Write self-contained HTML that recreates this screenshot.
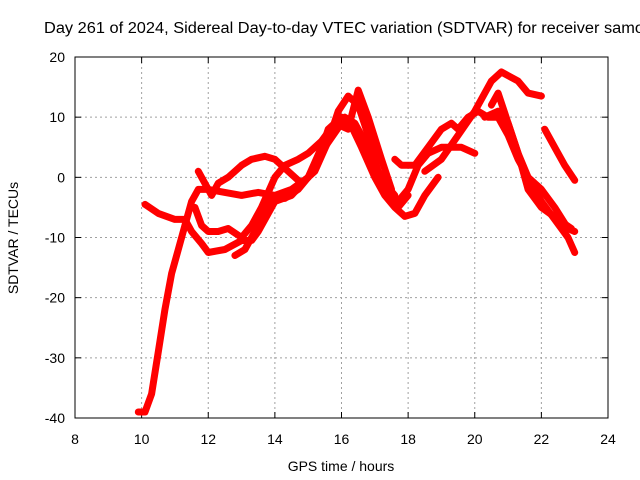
<!DOCTYPE html>
<html><head><meta charset="utf-8"><style>
body{margin:0;background:#fff}
svg{display:block;font-family:"Liberation Sans",sans-serif}
</style></head><body>
<svg id="c" width="640" height="480" xmlns="http://www.w3.org/2000/svg">
<text x="44" y="33" font-size="15.5" textLength="600" lengthAdjust="spacingAndGlyphs">Day 261 of 2024, Sidereal Day-to-day VTEC variation (SDTVAR) for receiver samo</text>
<text x="341" y="471" font-size="14" text-anchor="middle">GPS time / hours</text>
<text x="18" y="238" font-size="14" text-anchor="middle" transform="rotate(-90 18 238)">SDTVAR / TECUs</text>
</svg>
<script>
const xTicks=[8,10,12,14,16,18,20,22,24];
const yTicks=[-40,-30,-20,-10,0,10,20];
const trA_x=[9.9,10.1,10.3,10.5,10.7,10.9,11.1,11.3,11.5,11.7,12.0,12.5,13,13.5,14,14.5,15,15.3,15.6,16,16.3,16.6,17,17.4,17.7,18,18.3,18.6,19,19.3,19.6,20];
const trA_y=[-39,-39,-36,-29,-22,-16,-12,-8,-4,-2,-2,-2.5,-3,-2.5,-3,-2,0,3,8,10,9,6,1,-3,-4,-2,2,4,5,5,5,4];
const trB_x=[10.1,10.5,11,11.3,11.5,11.8,12,12.5,13,13.3,13.5,14,14.5,15,15.5,16,16.3,16.6,17,17.3,17.6,17.9,18.2,18.5,18.9];
const trB_y=[-4.5,-6,-7,-7,-9,-11,-12.5,-12,-10.5,-10.5,-9,-4,-3,0,5,9,8.5,5,0,-3,-5,-6.5,-6,-3,0];
const trC_x=[11.7,11.9,12.1,12.3,12.6,13,13.3,13.7,14,14.4,14.8,15.2,15.6,15.9,16.2,16.5,16.8,17.1,17.4,17.7,18];
const trC_y=[1,-1,-3,-1,0,2,3,3.5,3,1,-1,1,6,11,13.5,12,7,1,-3,-5,-3];
const trD_x=[11.6,11.8,12,12.3,12.6,13,13.3,13.6,14,14.3,14.7,15,15.4,15.8,16.1,16.4,16.7,17,17.3,17.6];
const trD_y=[-5,-8,-9,-9,-8.5,-10,-8,-5,0,2,3,4,6,9,10,9,6,2,-1,-3];
const trE_x=[12.8,13.1,13.4,13.7,14,14.3,14.7,15,15.4,15.8,16.2,16.5,16.8,17.2,17.5];
const trE_y=[-13,-12,-9,-5,-3,-3.5,-2,0,5,9,8,14.5,10,3,-2];
const trF_x=[17.6,17.8,18.2,18.6,19,19.3,19.5,19.8,20.1,20.4,20.7,21,21.3,21.6,22,22.4,22.8,23];
const trF_y=[3,2,2,5,8,9,8,10,11,10,10,7,3,0,-2,-5,-8.5,-9];
const trG_x=[18.5,19,19.5,20,20.5,20.8,21.3,21.6,22];
const trG_y=[1,3,7,11,16,17.5,16,14,13.5];
const trH_x=[20.3,20.7,21,21.3,21.6,22,22.4,22.8,23];
const trH_y=[10,11,9,4,0,-4,-7,-10,-12.5];
const trI_x=[20.5,20.7,21,21.3,21.6,22,22.5,22.9];
const trI_y=[12,14,9,4,-2,-5,-7,-8.5];
const trJ_x=[22.1,22.4,22.7,23];
const trJ_y=[8,5,2,-0.5];
const traces=[[trA_x,trA_y],[trB_x,trB_y],[trC_x,trC_y],[trD_x,trD_y],[trE_x,trE_y],[trF_x,trF_y],[trG_x,trG_y],[trH_x,trH_y],[trI_x,trI_y],[trJ_x,trJ_y]];
const L=75,R=608,T=57,B=418,NS="http://www.w3.org/2000/svg";
const sx=v=>L+(v-8)/16*(R-L), sy=v=>B-(v+40)/60*(B-T);
const svg=document.getElementById('c');
function mk(t,a){const e=document.createElementNS(NS,t);for(const k in a)e.setAttribute(k,a[k]);svg.appendChild(e);return e;}
xTicks.forEach(v=>{const x=sx(v);
 if(v>8&&v<24){const g=mk('line',{x1:x,y1:T,x2:x,y2:B,stroke:'#a0a0a0','stroke-dasharray':'2,3'});
 
 }
 mk('line',{x1:x,y1:B,x2:x,y2:B-6,stroke:'#000'});mk('line',{x1:x,y1:T,x2:x,y2:T+6,stroke:'#000'});
 const t=mk('text',{x:x,y:B+26,'font-size':14,'text-anchor':'middle'});t.textContent=v;
 
 });
yTicks.forEach(v=>{const y=sy(v);
 if(v>-40&&v<20){const g=mk('line',{x1:L,y1:y,x2:R,y2:y,stroke:'#a0a0a0','stroke-dasharray':'2,3'});
 
 }
 mk('line',{x1:L,y1:y,x2:L+6,y2:y,stroke:'#000'});mk('line',{x1:R,y1:y,x2:R-6,y2:y,stroke:'#000'});
 const t=mk('text',{x:L-10,y:y+5,'font-size':14,'text-anchor':'end'});t.textContent=v;
 
 });
const f=mk('rect',{x:L,y:T,width:R-L,height:B-T,fill:'none',stroke:'#000'});


traces.forEach((tr,i)=>{const d=tr[0].map((x,j)=>(j?'L':'M')+sx(x).toFixed(1)+','+sy(tr[1][j]).toFixed(1)).join('');
 const p=mk('path',{d:d,fill:'none',stroke:'#ff0000','stroke-width':7,'stroke-linejoin':'round','stroke-linecap':'round'});
 
 });
</script>
</body></html>
